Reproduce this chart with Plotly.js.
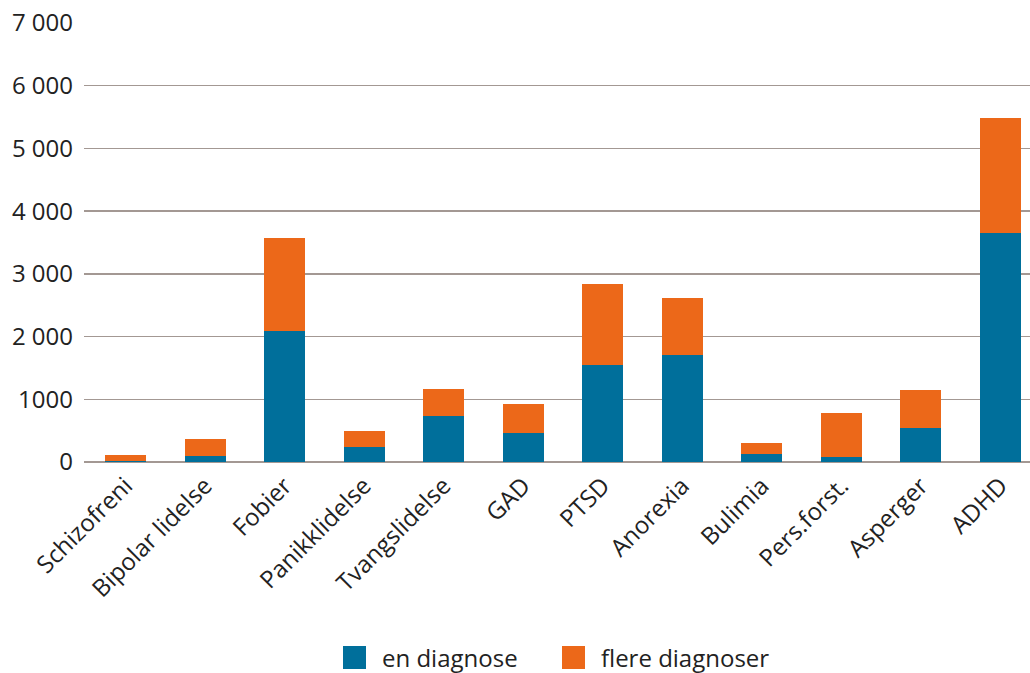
<!DOCTYPE html>
<html>
<head>
<meta charset="utf-8">
<script src="https://cdn.plot.ly/plotly-3.0.1.min.js"></script>
<style>html,body{margin:0;padding:0;background:#fff;}#chart{width:1030px;height:673px;}</style>
</head>
<body>
<div id="chart"></div>
<script>
const categories = ["Schizofreni","Bipolar lidelse","Fobier","Panikklidelse","Tvangslidelse","GAD","PTSD","Anorexia","Bulimia","Pers.forst.","Asperger","ADHD"];
const enDiagnose = [20, 96, 2093, 240, 735, 463, 1550, 1709, 133, 80, 543, 3658];
const flereDiagnoser = [92, 271, 1485, 255, 431, 464, 1293, 911, 171, 703, 607, 1821];
const seriesNames = ["en diagnose", "flere diagnoser"];
const seriesColors = ["#006f9b", "#ec6819"];
const yTickVals = [0, 1000, 2000, 3000, 4000, 5000, 6000, 7000];
const yTickText = ["0", "1000", "2 000", "3 000", "4 000", "5 000", "6 000", "7 000"];

const font = {family: "Open Sans, Noto Sans, sans-serif", size: 24, color: "#222222"};

const traces = [
  {type: "bar", name: seriesNames[0], x: categories, y: enDiagnose, marker: {color: seriesColors[0]}, width: 0.515, showlegend: false},
  {type: "bar", name: seriesNames[1], x: categories, y: flereDiagnoser, marker: {color: seriesColors[1]}, width: 0.515, showlegend: false}
];

// custom legend (larger swatches, as in the reference)
const legendY0 = -0.4191, legendY1 = -0.4715, legendYText = -0.4442;
const legendX = [0.2738, 0.5053];
const swatchW = 0.0243;
const shapes = seriesNames.map((n, i) => ({
  type: "rect", xref: "paper", yref: "paper",
  x0: legendX[i], x1: legendX[i] + swatchW, y0: legendY0, y1: legendY1,
  fillcolor: seriesColors[i], line: {width: 0}
}));
const annotations = seriesNames.map((n, i) => ({
  xref: "paper", yref: "paper", x: legendX[i] + swatchW + 0.0148, y: legendYText,
  xanchor: "left", yanchor: "middle", text: n, showarrow: false, font: font
}));

const layout = {
  width: 1030, height: 673,
  margin: {l: 84, r: 0, t: 23, b: 211},
  barmode: "stack",
  font: font,
  paper_bgcolor: "#ffffff",
  plot_bgcolor: "#ffffff",
  showlegend: false,
  shapes: shapes,
  annotations: annotations,
  xaxis: {type: "category", range: [-0.522, 11.371], tickangle: -45, showgrid: false, zeroline: false, showline: false, ticks: "", tickfont: font, ticklabelstandoff: 4, automargin: false, fixedrange: true},
  yaxis: {range: [0, 7000], tickvals: yTickVals, ticktext: yTickText, showgrid: true, gridcolor: "#a39893", gridwidth: 1.3, zeroline: true, zerolinecolor: "#a39893", zerolinewidth: 1.3, showline: false, ticks: "", tickfont: font, ticklabelstandoff: 10, automargin: false, fixedrange: true}
};

Plotly.newPlot("chart", traces, layout, {displayModeBar: false, staticPlot: true});
</script>
</body>
</html>
